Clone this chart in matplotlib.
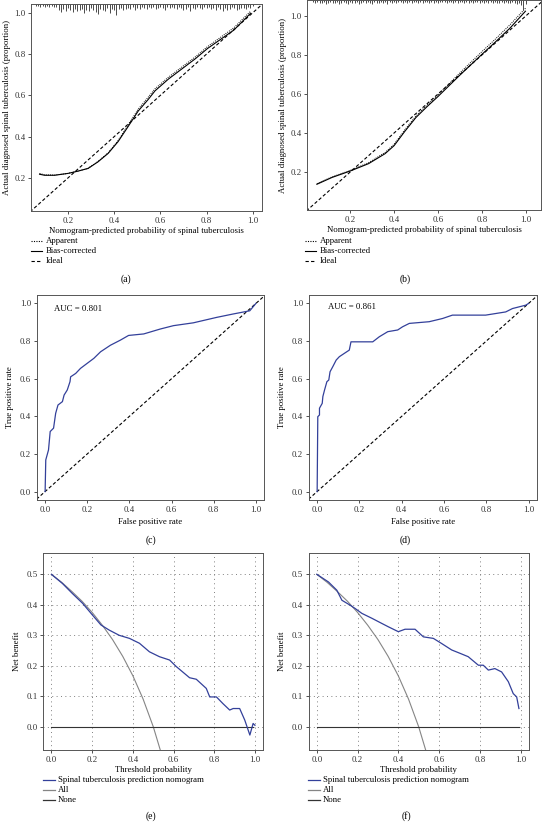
import matplotlib
matplotlib.use('Agg')
import matplotlib.pyplot as plt
from matplotlib.lines import Line2D

plt.rcParams['font.family'] = ['Liberation Serif', 'DejaVu Serif']
plt.rcParams['font.size'] = 6.3

W, H = 543, 825

# ---- calibration (a) ----
cal_a_x = [0.077, 0.099, 0.142, 0.2, 0.243, 0.287, 0.33, 0.374, 0.417, 0.461, 0.504,
           0.548, 0.577, 0.635, 0.693, 0.751, 0.803, 0.918, 0.991]
cal_a_bias = [0.218, 0.213, 0.213, 0.222, 0.233, 0.246, 0.278, 0.319, 0.376, 0.45, 0.524,
              0.581, 0.622, 0.679, 0.728, 0.777, 0.826, 0.916, 0.998]
cal_a_app = [0.222, 0.215, 0.214, 0.222, 0.233, 0.247, 0.28, 0.322, 0.381, 0.458, 0.533,
             0.592, 0.632, 0.688, 0.737, 0.786, 0.835, 0.927, 1.008]
rug_a_x = [round(0.06 + 0.01 * i, 2) for i in range(95)]
rug_a_n = [2, 2, 3, 2, 3, 2, 3, 2, 3, 3,
           6, 8, 5, 7, 4, 6, 8, 5, 7, 6,
           5, 9, 6, 7, 4, 6, 8, 10, 5, 6,
           7, 4, 9, 5, 6, 11, 5, 4, 6, 5,
           4, 5, 3, 6, 4, 5, 3, 4, 5, 3,
           4, 3, 5, 4, 3, 4, 6, 3, 4, 3,
           4, 5, 3, 4, 6, 5, 3, 7, 4, 5,
           3, 4, 5, 3, 4, 3, 5, 4, 6, 3,
           5, 7, 4, 6, 5, 3, 4, 6, 5, 4,
           4, 5, 3, 4, 2]

# ---- calibration (b) ----
cal_b_x = [0.048, 0.117, 0.2, 0.284, 0.359, 0.40, 0.45, 0.50, 0.55, 0.60, 0.65,
           0.70, 0.75, 0.80, 0.86, 0.93, 0.999]
cal_b_bias = [0.137, 0.172, 0.205, 0.243, 0.294, 0.335, 0.41, 0.48, 0.535, 0.587, 0.642,
              0.697, 0.75, 0.803, 0.865, 0.94, 1.025]
cal_b_app = [0.14, 0.175, 0.208, 0.248, 0.30, 0.342, 0.418, 0.488, 0.543, 0.595, 0.652,
             0.708, 0.763, 0.817, 0.88, 0.957, 1.04]
rug_b_x = [round(0.03 + 0.01 * i, 2) for i in range(98)]
rug_b_n = [2, 3, 2, 3, 3, 2, 4, 3, 2, 3,
           3, 2, 4, 3, 2, 3, 4, 2, 3, 3,
           2, 4, 3, 2, 3, 2, 3, 4, 2, 3,
           3, 2, 3, 2, 4, 2, 3, 2, 3, 2,
           2, 3, 2, 3, 2, 3, 2, 2, 3, 2,
           3, 2, 2, 3, 2, 3, 2, 3, 2, 2,
           2, 3, 2, 2, 3, 2, 3, 2, 2, 3,
           2, 3, 2, 3, 2, 2, 3, 2, 3, 2,
           3, 2, 3, 2, 3, 3, 2, 3, 2, 3,
           3, 2, 3, 4, 3, 5, 10, 4]

# ---- ROC (c), (d) ----
roc_c_fpr = [0, 0.003, 0.016, 0.024, 0.04, 0.05, 0.061, 0.082, 0.09, 0.105, 0.118, 0.121,
             0.145, 0.168, 0.2, 0.231, 0.263, 0.31, 0.357, 0.396, 0.468, 0.546, 0.609,
             0.703, 0.814, 0.892, 0.971, 1.0]
roc_c_tpr = [0, 0.168, 0.221, 0.319, 0.337, 0.416, 0.46, 0.478, 0.513, 0.54, 0.584, 0.61,
             0.628, 0.655, 0.682, 0.708, 0.743, 0.778, 0.805, 0.83, 0.838, 0.864, 0.882,
             0.897, 0.926, 0.944, 0.961, 1.0]
roc_d_fpr = [0, 0.003, 0.011, 0.011, 0.024, 0.027, 0.035, 0.046, 0.055, 0.061, 0.074, 0.09,
             0.105, 0.129, 0.152, 0.16, 0.263, 0.294, 0.334, 0.381, 0.404, 0.436, 0.53,
             0.593, 0.64, 0.797, 0.892, 0.924, 0.987, 1.0]
roc_d_tpr = [0, 0.398, 0.407, 0.443, 0.469, 0.505, 0.54, 0.584, 0.593, 0.637, 0.664, 0.699,
             0.717, 0.735, 0.752, 0.796, 0.796, 0.823, 0.85, 0.859, 0.876, 0.894, 0.903,
             0.92, 0.938, 0.938, 0.955, 0.973, 0.991, 1.0]
auc_c, auc_d = 0.801, 0.861

# ---- decision curves (e), (f) ----
dca_e_thr = [0.0, 0.054, 0.103, 0.153, 0.202, 0.243, 0.284, 0.333, 0.383, 0.432, 0.481,
             0.53, 0.58, 0.612, 0.678, 0.711, 0.76, 0.777, 0.81, 0.842, 0.875, 0.892,
             0.924, 0.949, 0.974, 0.99, 0.999]
dca_e_nb = [0.5, 0.47, 0.437, 0.405, 0.366, 0.334, 0.317, 0.3, 0.29, 0.274, 0.246,
            0.23, 0.219, 0.198, 0.161, 0.156, 0.126, 0.098, 0.098, 0.076, 0.055, 0.06,
            0.06, 0.022, -0.027, 0.011, 0.005]
dca_f_thr = [0.0, 0.057, 0.098, 0.123, 0.163, 0.188, 0.221, 0.27, 0.319, 0.351, 0.4,
             0.433, 0.482, 0.523, 0.572, 0.613, 0.662, 0.703, 0.743, 0.793, 0.817, 0.842,
             0.874, 0.907, 0.94, 0.964, 0.981, 0.992]
dca_f_nb = [0.5, 0.475, 0.448, 0.415, 0.399, 0.388, 0.372, 0.356, 0.339, 0.328, 0.312,
            0.32, 0.32, 0.295, 0.29, 0.273, 0.252, 0.241, 0.23, 0.202, 0.202, 0.186,
            0.191, 0.18, 0.148, 0.109, 0.098, 0.06]
all_thr = [0.0, 0.05, 0.1, 0.15, 0.2, 0.25, 0.3, 0.35, 0.4, 0.45, 0.5, 0.55]
all_nb = [0.5, 0.474, 0.444, 0.412, 0.375, 0.333, 0.286, 0.231, 0.167, 0.091, 0.0, -0.111]
none_thr = [0.0, 0.99]
none_nb = [0.0, 0.0]

ticks_01 = [0.0, 0.2, 0.4, 0.6, 0.8, 1.0]
ticks_cal = [0.2, 0.4, 0.6, 0.8, 1.0]
ticks_nb = [0.0, 0.1, 0.2, 0.3, 0.4, 0.5]

BLUE = '#33409a'
GREY = '#858585'
DARK = '#333333'

fig = plt.figure(figsize=(W / 100, H / 100), dpi=100)


def px_axes(left, top, right, bottom):
    return fig.add_axes([left / W, 1 - bottom / H, (right - left) / W, (bottom - top) / H])


def ftext(x, y, s, **kw):
    fig.text(x / W, 1 - y / H, s, ha=kw.pop('ha', 'center'), va=kw.pop('va', 'center'), **kw)


def fline(x1, x2, y, **kw):
    fig.add_artist(Line2D([x1 / W, x2 / W], [1 - y / H, 1 - y / H], **kw))


def style(ax):
    for s in ax.spines.values():
        s.set_color('#555555')
        s.set_linewidth(0.7)
    ax.tick_params(direction='out', length=2.2, width=0.6, pad=1.8, colors='#333333',
                   labelsize=6.4)


def fmt(ticks):
    return ['%.1f' % t for t in ticks]


# (a) and (b) calibration
cal_panels = [
    ((31, 4.5, 262, 211), (0.04, 1.04), (0.04, 1.04), cal_a_x, cal_a_bias, cal_a_app,
     rug_a_x, rug_a_n, 31, 126, '(a)'),
    ((307, 0.5, 541, 210), (0.003, 1.07), (0.005, 1.08), cal_b_x, cal_b_bias, cal_b_app,
     rug_b_x, rug_b_n, 305, 405, '(b)'),
]
for box, xl, yl, cx, cb, ca, rx, rn, lx, labx, lab in cal_panels:
    ax = px_axes(*box)
    style(ax)
    ax.plot([0, 1.2], [0, 1.2], color='black', lw=0.8, ls=(0, (3, 2)))
    ax.plot(cx, ca, color='black', lw=0.7, ls=(0, (1, 1.2)))
    ax.plot(cx, cb, color='black', lw=0.8)
    ax.vlines(rx, [1 - 0.0047 * n for n in rn], 1, transform=ax.get_xaxis_transform(),
              color='#4a4a4a', lw=0.7)
    ax.set_xlim(*xl)
    ax.set_ylim(*yl)
    ax.set_xticks(ticks_cal, fmt(ticks_cal))
    ax.set_yticks(ticks_cal, fmt(ticks_cal))
    ax.set_xlabel('Nomogram-predicted probability of spinal tuberculosis', labelpad=2)
    ax.set_ylabel('Actual diagnosed spinal tuberculosis (proportion)', labelpad=2)
    for i, (name, ls) in enumerate([('Apparent', (0, (1, 1.2))), ('Bias-corrected', '-'),
                                    ('Ideal', (0, (3, 2)))]):
        y = 241 + 10 * i
        fline(lx, lx + 11, y, color='black', lw=0.8, ls=ls)
        ftext(lx + 15, y, name, ha='left')
    ftext(labx, 279, lab, fontsize=7)

# (c) and (d) ROC
roc_panels = [
    ((36.7, 295, 264.3, 500), roc_c_fpr, roc_c_tpr, auc_c, (0.04, 0.97), 151, '(c)'),
    ((308.7, 295, 537, 500), roc_d_fpr, roc_d_tpr, auc_d, (0.05, 0.98), 405, '(d)'),
]
for box, fx, fy, auc, tpos, labx, lab in roc_panels:
    ax = px_axes(*box)
    style(ax)
    ax.plot([-0.1, 1.1], [-0.1, 1.1], color='black', lw=0.8, ls=(0, (3, 2)))
    ax.plot(fx, fy, color=BLUE, lw=0.9)
    ax.set_xlim(-0.04, 1.04)
    ax.set_ylim(-0.045, 1.045)
    ax.set_xticks(ticks_01, fmt(ticks_01))
    ax.set_yticks(ticks_01, fmt(ticks_01))
    ax.set_xlabel('False positive rate', labelpad=3)
    ax.set_ylabel('True positive rate', labelpad=4)
    ax.text(tpos[0], tpos[1], 'AUC = %.3f' % auc, ha='left', va='center', fontsize=6.3)
    ftext(labx, 540, lab, fontsize=7)

# (e) and (f) decision curves
dca_panels = [
    ((43.3, 553.3, 263.3, 750), dca_e_thr, dca_e_nb, 43, 151, '(e)'),
    ((308.7, 553.3, 528.7, 750), dca_f_thr, dca_f_nb, 308, 406, '(f)'),
]
for box, tx, ty, lx, labx, lab in dca_panels:
    ax = px_axes(*box)
    style(ax)
    ax.set_xlim(-0.04, 1.04)
    ax.set_ylim(-0.076, 0.569)
    for t in ticks_01:
        ax.axvline(t, color='#808080', lw=0.7, ls=(0, (1, 3.5)), zorder=0)
    for t in ticks_nb:
        ax.axhline(t, color='#808080', lw=0.7, ls=(0, (1, 3.5)), zorder=0)
    ax.plot(all_thr, all_nb, color=GREY, lw=0.8)
    ax.plot(none_thr, none_nb, color=DARK, lw=0.8)
    ax.plot(tx, ty, color=BLUE, lw=0.9)
    ax.set_xticks(ticks_01, fmt(ticks_01))
    ax.set_yticks(ticks_nb, fmt(ticks_nb))
    ax.set_xlabel('Threshold probability', labelpad=2)
    ax.set_ylabel('Net benefit', labelpad=4)
    for i, (name, c) in enumerate([('Spinal tuberculosis prediction nomogram', BLUE),
                                   ('All', GREY), ('None', DARK)]):
        y = 780 + 10 * i
        fline(lx, lx + 12, y, color=c, lw=0.9)
        ftext(lx + 15, y, name, ha='left')
    ftext(labx, 816, lab, fontsize=7)

fig.savefig('out.png', dpi=100)
